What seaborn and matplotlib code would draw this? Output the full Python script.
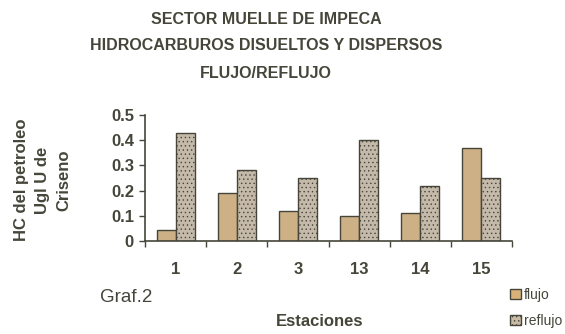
import matplotlib
matplotlib.use("Agg")
import matplotlib.pyplot as plt
import seaborn as sns
import pandas as pd
from matplotlib.ticker import FuncFormatter
from matplotlib.patches import Patch

estaciones = ["1", "2", "3", "13", "14", "15"]
flujo = [0.045, 0.19, 0.12, 0.10, 0.11, 0.37]
reflujo = [0.43, 0.28, 0.25, 0.40, 0.22, 0.25]
series = ["flujo", "reflujo"]
titulo = "SECTOR MUELLE DE IMPECA\nHIDROCARBUROS DISUELTOS Y DISPERSOS\nFLUJO/REFLUJO"

df = pd.DataFrame({
    "Estaciones": estaciones * 2,
    "valor": flujo + reflujo,
    "serie": [series[0]] * len(estaciones) + [series[1]] * len(estaciones),
})

sns.set_theme(style="white")
fam = ["Liberation Sans Narrow", "Liberation Sans", "DejaVu Sans"]
plt.rcParams["font.family"] = fam
plt.rcParams["hatch.linewidth"] = 0.5
txt = "#45453a"
colors = {"flujo": "#d9b27a", "reflujo": "#c9bba6"}

fig = plt.figure(figsize=(5.65, 3.34), dpi=100)
ax = fig.add_axes([145/565, 1-241/334, 367/565, 126/334])
sns.barplot(data=df, x="Estaciones", y="valor", hue="serie", order=estaciones,
            palette=colors, width=0.62, edgecolor=txt, linewidth=1.0,
            legend=False, ax=ax)
for i, p in enumerate(ax.patches):
    p.set_hatch("...." if i >= len(estaciones) else "")

ax.set_ylim(0, 0.5)
ax.set_xlim(-0.5, len(estaciones) - 0.5)
ax.set_yticks([0, 0.1, 0.2, 0.3, 0.4, 0.5])
ax.yaxis.set_major_formatter(FuncFormatter(lambda v, _: "0" if v == 0 else f"{v:.1f}"))
ax.set_xticks(range(len(estaciones)))
ax.set_xticklabels(estaciones)
ax.set_xticks([i + 0.5 for i in range(-1, len(estaciones))], minor=True)
ax.tick_params(axis="x", which="major", length=0, pad=15, labelsize=12, colors=txt)
ax.tick_params(axis="x", which="minor", length=4, width=1, direction="out", color=txt, bottom=True)
ax.tick_params(axis="y", length=4, width=1, direction="out", color=txt, left=True, labelsize=12, labelcolor=txt, pad=4)
for lab in ax.get_xticklabels() + ax.get_yticklabels():
    lab.set_fontweight("bold")
for s in ["top", "right"]:
    ax.spines[s].set_visible(False)
for s in ["left", "bottom"]:
    ax.spines[s].set_color(txt)
    ax.spines[s].set_linewidth(1.2)
ax.set_xlabel("")
ax.set_ylabel("")

fig.text(266/565, 1-46/334, titulo, ha="center", va="center", fontsize=11.5,
         fontweight="bold", color=txt, linespacing=2.0)
fig.text(43/565, 1-180/334, "HC del petroleo\nUgl U de\nCriseno", ha="center", va="center",
         rotation=90, fontsize=12, fontweight="bold", color=txt, linespacing=1.5)
fig.text(100/565, 1-297/334, "Graf.2", ha="left", va="center", fontsize=13.5, color=txt)
fig.text(320/565, 1-322/334, "Estaciones", ha="center", va="center", fontsize=12,
         fontweight="bold", color=txt)

handles = [Patch(facecolor=colors["flujo"], edgecolor=txt, label="flujo"),
           Patch(facecolor=colors["reflujo"], edgecolor=txt, hatch="....", label="reflujo")]
leg = fig.legend(handles=handles, loc="upper left", bbox_to_anchor=(510/565, 1-288/334),
                 frameon=False, fontsize=10, handlelength=0.8, handleheight=0.8,
                 handletextpad=0.2, labelspacing=0.85, borderpad=0, borderaxespad=0)
for t in leg.get_texts():
    t.set_color(txt)

fig.savefig("out.png", dpi=100, facecolor="white")
